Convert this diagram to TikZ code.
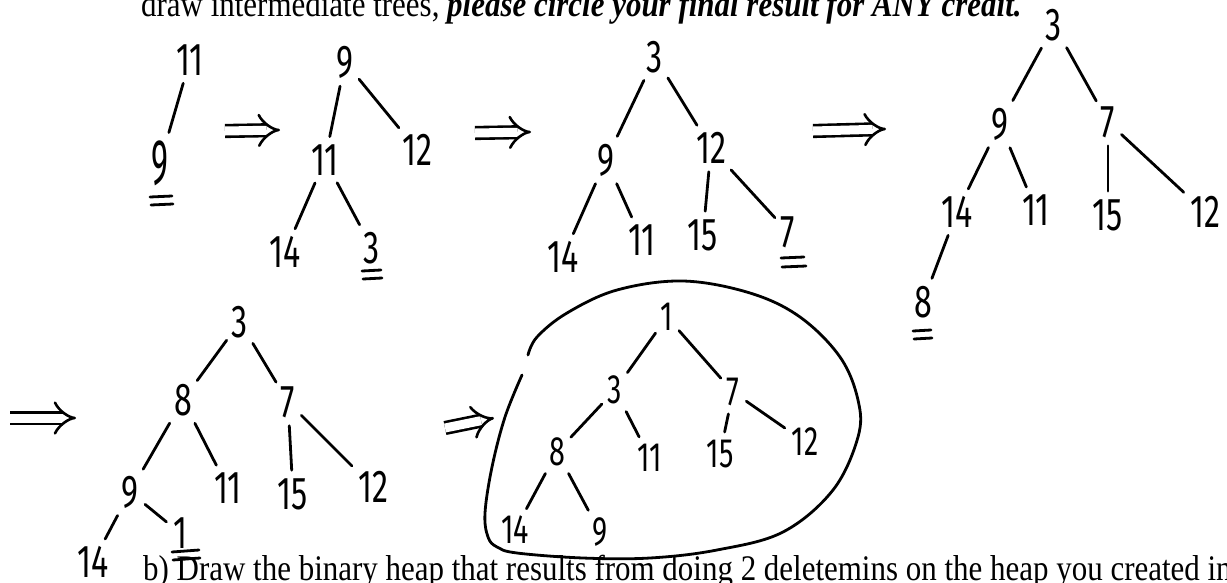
\documentclass[tikz,border=0pt]{standalone}
\usepackage{fontspec}
\usetikzlibrary{arrows.meta}
\newfontfamily\typefont[FakeStretch=0.86]{Liberation Serif}
\newfontfamily\digfont[FakeStretch=0.7]{Fira Sans}
\begin{document}
\begin{tikzpicture}[x=1pt,y=-1pt,
  dg/.style={font=\digfont\fontsize{46pt}{50pt}\selectfont, inner sep=1pt},
  dgs/.style={font=\digfont\fontsize{41pt}{45pt}\selectfont, inner sep=1pt},
  ed/.style={line width=2.8pt, line cap=round, shorten <=7pt, shorten >=7pt},
  ul/.style={line width=2.8pt, line cap=round},
  dbl/.style={double, double distance=9pt, line width=2.6pt, -{Implies}},
  txt/.style={font=\typefont\fontsize{36pt}{40pt}\selectfont, inner sep=0pt, anchor=base west}]
\fill[white] (0,0) rectangle (1227,582);
\useasboundingbox (0,0) rectangle (1227,582);

% typed text
\node[txt] (top) at (141,16) {draw intermediate trees, \textbf{\textit{please circle your final result for ANY credit.}}};
\node[txt] (bot) at (143,580) {b) Draw the binary heap that results from doing 2 deletemins on the heap you created in};

% tree 1
\node[dg] (t1a) at (190,60) {11};
\node[dg] (t1b) at (160,163) {\scalebox{1}[1.4]{9}};
\draw[ed] (t1a) -- (t1b);
\draw[ul] (150,197) -- (172,196);
\draw[ul] (151,205) -- (173,204);

% arrow 1
\coordinate (a1s) at (225,131);
\coordinate (a1e) at (280,130);
\draw[dbl] (a1s) -- (a1e);

% tree 2
\node[dg] (t2a) at (345,62) {9};
\node[dg] (t2b) at (325,160) {11};
\node[dg] (t2c) at (417,150) {12};
\node[dg] (t2d) at (285,252) {14};
\node[dg] (t2e) at (372,248) {3};
\draw[ed] (t2a) -- (t2b);
\draw[ed] (t2a) -- (t2c);
\draw[ed] (t2b) -- (t2d);
\draw[ed] (t2b) -- (t2e);
\draw[ul] (362,271) -- (381,270);
\draw[ul] (363,279) -- (382,278);

% arrow 2
\coordinate (a2s) at (475,133);
\coordinate (a2e) at (531,132);
\draw[dbl] (a2s) -- (a2e);

% tree 3
\node[dg] (t3a) at (655,57) {3};
\node[dg] (t3b) at (606,160) {9};
\node[dg] (t3c) at (711,148) {12};
\node[dg] (t3d) at (563,257) {14};
\node[dg] (t3e) at (642,240) {11};
\node[dg] (t3f) at (703,235) {15};
\node[dg] (t3g) at (788,232) {7};
\draw[ed] (t3a) -- (t3b);
\draw[ed] (t3a) -- (t3c);
\draw[ed] (t3b) -- (t3d);
\draw[ed] (t3b) -- (t3e);
\draw[ed] (t3c) -- (t3f);
\draw[ed] (t3c) -- (t3g);
\draw[ul] (781,258) -- (804,257);
\draw[ul] (782,267) -- (806,266);

% arrow 3
\coordinate (a3s) at (813,131);
\coordinate (a3e) at (886,129);
\draw[dbl] (a3s) -- (a3e);

% tree 4
\node[dg] (t4a) at (1054,25) {3};
\node[dg] (t4b) at (1000,124) {9};
\node[dg] (t4c) at (1108,122) {7};
\node[dg] (t4d) at (957,212) {14};
\node[dg] (t4e) at (1036,210) {11};
\node[dg] (t4f) at (1108,215) {15};
\node[dg] (t4g) at (1205,212) {12};
\node[dg] (t4h) at (923,302) {8};
\draw[ed] (t4a) -- (t4b);
\draw[ed] (t4a) -- (t4c);
\draw[ed] (t4b) -- (t4d);
\draw[ed] (t4b) -- (t4e);
\draw[ed] (t4c) -- (t4f);
\draw[ed] (t4c) -- (t4g);
\draw[ed] (t4d) -- (t4h);
\draw[ul] (913,331) -- (931,330);
\draw[ul] (914,339) -- (932,338);

% arrow 4
\coordinate (a4s) at (10,418);
\coordinate (a4e) at (76,418);
\draw[dbl] (a4s) -- (a4e);

% tree 5
\node[dg] (t5a) at (240,322) {3};
\node[dg] (t5b) at (183,400) {8};
\node[dg] (t5c) at (288,402) {7};
\node[dg] (t5d) at (130,492) {9};
\node[dg] (t5e) at (228,488) {11};
\node[dg] (t5f) at (293,494) {15};
\node[dg] (t5g) at (373,487) {12};
\node[dg] (t5h) at (93,562) {14};
\node[dg] (t5i) at (180,533) {1};
\draw[ed] (t5a) -- (t5b);
\draw[ed] (t5a) -- (t5c);
\draw[ed] (t5b) -- (t5d);
\draw[ed] (t5b) -- (t5e);
\draw[ed] (t5c) -- (t5f);
\draw[ed] (t5c) -- (t5g);
\draw[ed] (t5d) -- (t5h);
\draw[ed] (t5d) -- (t5i);
\draw[ul] (172,552) -- (199,550);
\draw[ul] (173,560) -- (200,558);

% arrow 5
\coordinate (a5s) at (445,428);
\coordinate (a5e) at (494,418);
\draw[dbl] (a5s) -- (a5e);

% tree 6
\node[dgs] (t6a) at (667,317) {1};
\node[dgs] (t6b) at (615,390) {3};
\node[dgs] (t6c) at (733,392) {7};
\node[dgs] (t6d) at (557,452) {8};
\node[dgs] (t6e) at (650,458) {11};
\node[dgs] (t6f) at (720,454) {15};
\node[dgs] (t6g) at (805,442) {12};
\node[dgs] (t6h) at (515,530) {14};
\node[dgs] (t6i) at (600,532) {9};
\draw[ed] (t6a) -- (t6b);
\draw[ed] (t6a) -- (t6c);
\draw[ed] (t6b) -- (t6d);
\draw[ed] (t6b) -- (t6e);
\draw[ed] (t6c) -- (t6f);
\draw[ed] (t6c) -- (t6g);
\draw[ed] (t6d) -- (t6h);
\draw[ed] (t6d) -- (t6i);

% circle round the final result
\draw[line width=2.8pt, line cap=round] plot[smooth, tension=0.6] coordinates {
  (522,375) (505,417) (492,467) (485,513) (488,537) (497,547) (517,553)
  (583,558) (650,558) (717,550) (783,532) (833,490) (858,437) (858,400)
  (840,357) (800,317) (750,293) (683,281) (617,290) (567,313) (537,337) (528,355)};
\end{tikzpicture}
\end{document}
